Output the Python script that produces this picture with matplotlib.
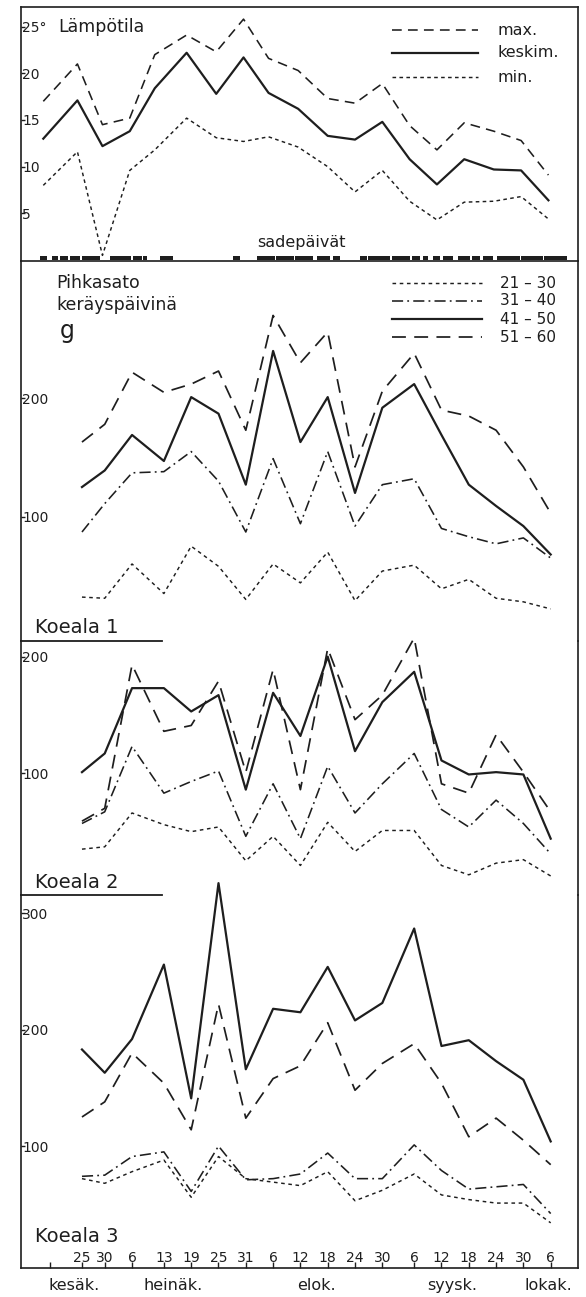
import matplotlib
matplotlib.use("Agg")
import matplotlib.pyplot as plt
from matplotlib.lines import Line2D

plt.rcParams['font.family'] = ['DejaVu Sans']
plt.rcParams['lines.scale_dashes'] = False

INK = '#1e1e1e'

# ---------------- data ----------------
date_labels = ['25', '30', '6', '13', '19', '25', '31', '6', '12', '18',
               '24', '30', '6', '12', '18', '24', '30', '6']
coll_day = [0, 5, 11, 18, 24, 30, 36, 42, 48, 54, 60, 66, 73, 79, 85, 91, 97, 103]
tick_day = [-7] + coll_day
# temperature period points (days from 25 June)
temp_day = [-8.5, -1, 4.5, 10.5, 16, 23, 29.5, 35.5, 41, 47.5,
            54, 60, 66, 72, 78, 84, 90.5, 96.5, 102.5]

month_names = ['kesäk.', 'heinäk.', 'elok.', 'syysk.', 'lokak.']
month_pos = [-1.8, 20, 51.6, 81.3, 102.4]

t_max = [17.0, 21.0, 14.5, 15.2, 22.0, 24.1, 22.3, 25.8, 21.6, 20.3,
         17.3, 16.8, 18.9, 14.4, 11.8, 14.7, 13.8, 12.8, 9.1]
t_mean = [13.0, 17.1, 12.2, 13.8, 18.4, 22.2, 17.8, 21.7, 17.9, 16.2,
          13.3, 12.9, 14.8, 10.8, 8.1, 10.8, 9.7, 9.6, 6.4]
t_min = [8.0, 11.6, 0.5, 9.6, 11.8, 15.2, 13.1, 12.7, 13.2, 12.1,
         10.0, 7.3, 9.6, 6.3, 4.3, 6.2, 6.3, 6.8, 4.4]

# rain days (start day, length in days)
rain_start = [-9.2, -6.6, -4.8, -2.6, 0.0, 6.2, 11.2, 13.4, 17.1, 33.2,
              38.5, 42.7, 46.9, 51.6, 55.2, 61.1, 62.9, 68.1, 72.5, 74.9,
              77.1, 79.3, 82.6, 85.7, 88.1, 91.2, 96.4, 101.6]
rain_len = [1.5, 1.3, 1.7, 2.2, 4.0, 4.6, 2.0, 0.9, 2.9, 1.5,
            4.0, 4.0, 3.9, 2.9, 1.5, 1.5, 4.8, 4.0, 1.8, 1.1,
            1.6, 2.2, 2.7, 1.8, 2.2, 5.0, 5.0, 5.0]

k1_21_30 = [32, 31, 60, 35, 75, 58, 30, 60, 44, 70, 29, 54, 59, 39, 47, 31, 28, 22]
k1_31_40 = [87, 111, 137, 138, 155, 130, 87, 149, 94, 155, 92, 127, 132, 90, 83, 77, 82, 65]
k1_41_50 = [125, 139, 169, 147, 201, 187, 127, 240, 163, 201, 120, 192, 212, 169, 127, 109, 92, 68]
k1_51_60 = [163, 178, 222, 205, 212, 223, 173, 270, 230, 256, 142, 206, 238, 190, 185, 173, 142, 103]

k2_21_30 = [35, 37, 66, 56, 50, 54, 25, 46, 21, 58, 33, 51, 51, 21, 13, 23, 26, 12]
k2_31_40 = [57, 67, 123, 83, 93, 102, 46, 91, 44, 106, 66, 91, 117, 69, 54, 77, 57, 31]
k2_41_50 = [101, 117, 173, 173, 153, 167, 86, 169, 132, 200, 119, 161, 187, 111, 99, 101, 99, 44]
k2_51_60 = [59, 70, 193, 136, 141, 179, 101, 189, 86, 207, 146, 167, 216, 91, 83, 133, 101, 67]

k3_21_30 = [72, 68, 78, 88, 56, 91, 72, 69, 66, 78, 53, 62, 76, 58, 54, 51, 51, 34]
k3_31_40 = [74, 75, 91, 95, 61, 100, 71, 72, 76, 94, 72, 72, 101, 79, 63, 65, 67, 42]
k3_41_50 = [183, 163, 192, 256, 141, 326, 166, 218, 215, 254, 208, 223, 287, 186, 191, 173, 157, 104]
k3_51_60 = [125, 138, 180, 154, 114, 222, 124, 158, 169, 206, 148, 171, 188, 154, 108, 124, 105, 84]

temp_labels = ['max.', 'keskim.', 'min.']
age_labels = ['21 – 30', '31 – 40', '41 – 50', '51 – 60']

# ---------------- styles ----------------
sty_max = dict(color=INK, lw=1.15, dashes=(7, 4.5))
sty_mean = dict(color=INK, lw=1.6, linestyle='-')
sty_min = dict(color=INK, lw=1.05, dashes=(2.6, 2.4))
sty_a = dict(color=INK, lw=1.05, dashes=(2.6, 2.6))          # 21-30
sty_b = dict(color=INK, lw=1.15, dashes=(8, 3, 1.3, 3))       # 31-40
sty_c = dict(color=INK, lw=1.6, linestyle='-')               # 41-50
sty_d = dict(color=INK, lw=1.25, dashes=(10, 6))              # 51-60
age_styles = [sty_a, sty_b, sty_c, sty_d]

# ---------------- layout ----------------
W, H = 586, 1297
L, R = 21, 578
XLIM = (-13.4, 109.0)

fig = plt.figure(figsize=(W / 100, H / 100), dpi=100)
fig.patch.set_facecolor('white')


def add_ax(top, bot):
    return fig.add_axes([L / W, 1 - bot / H, (R - L) / W, (bot - top) / H])


def style_ax(ax, show_top, show_bottom, yticks, ylabels):
    ax.set_xlim(*XLIM)
    for side in ['left', 'right', 'top', 'bottom']:
        ax.spines[side].set_color(INK)
        ax.spines[side].set_linewidth(1.2)
    ax.spines['top'].set_visible(show_top)
    ax.spines['bottom'].set_visible(show_bottom)
    ax.set_yticks(yticks)
    ax.set_yticklabels(ylabels)
    ax.tick_params(axis='y', direction='in', length=3, width=1.0, color=INK,
                   pad=-1.0, labelsize=10, labelcolor=INK)
    for t in ax.get_yticklabels():
        t.set_horizontalalignment('left')
    ax.set_facecolor('none')


# Temperature panel
ax0 = add_ax(7, 261)
ax0.set_ylim(-0.1, 27.1)
style_ax(ax0, True, True, [5, 10, 15, 20, 25], ['5', '10', '15', '20', '25°'])
ax0.set_xticks([])
ax0.plot(temp_day, t_max, **sty_max)
ax0.plot(temp_day, t_mean, **sty_mean)
ax0.plot(temp_day, t_min, **sty_min)
ax0.broken_barh(list(zip(rain_start, rain_len)), (0.0, 0.45), facecolor=INK,
                edgecolor='none')
ax0.text(0.066, 0.921, 'Lämpötila', transform=ax0.transAxes, fontsize=12.5,
         va='center', ha='left', color=INK)
ax0.text(0.504, 0.071, 'sadepäivät', transform=ax0.transAxes, fontsize=11.5,
         va='center', ha='center', color=INK)
leg_y0 = [0.909, 0.819, 0.724]
for lab, sty, yy in zip(temp_labels, [sty_max, sty_mean, sty_min], leg_y0):
    ax0.add_line(Line2D([0.666, 0.8205], [yy, yy], transform=ax0.transAxes, **sty))
    ax0.text(0.855, yy, lab, transform=ax0.transAxes, fontsize=11.5,
             va='center', ha='left', color=INK)

# Koeala 1
ax1 = add_ax(261, 641)
ax1.set_ylim(-5.1, 316)
style_ax(ax1, False, False, [100, 200], ['100', '200'])
ax1.set_xticks([])
for ys, sty in zip([k1_21_30, k1_31_40, k1_41_50, k1_51_60], age_styles):
    ax1.plot(coll_day, ys, clip_on=False, **sty)
ax1.text(0.063, 0.942, 'Pihkasato', transform=ax1.transAxes, fontsize=12.5,
         va='center', ha='left', color=INK)
ax1.text(0.063, 0.884, 'keräyspäivinä', transform=ax1.transAxes, fontsize=12.5,
         va='center', ha='left', color=INK)
ax1.text(0.07, 0.815, 'g', transform=ax1.transAxes, fontsize=17,
         va='center', ha='left', color=INK)
leg_y1 = [0.942, 0.895, 0.847, 0.800]
for lab, sty, yy in zip(age_labels, age_styles, leg_y1):
    ax1.add_line(Line2D([0.666, 0.828], [yy, yy], transform=ax1.transAxes, **sty))
    ax1.text(0.86, yy, lab, transform=ax1.transAxes, fontsize=11,
             va='center', ha='left', color=INK)

# Koeala 2
ax2 = add_ax(641, 895)
ax2.set_ylim(-4.3, 213.4)
style_ax(ax2, False, False, [100, 200], ['100', '200'])
ax2.set_xticks([])
for ys, sty in zip([k2_21_30, k2_31_40, k2_41_50, k2_51_60], age_styles):
    ax2.plot(coll_day, ys, clip_on=False, **sty)

# Koeala 3
ax3 = add_ax(895, 1268)
ax3.set_ylim(-4.8, 315.8)
style_ax(ax3, False, True, [100, 200, 300], ['100', '200', '300'])
for ys, sty in zip([k3_21_30, k3_31_40, k3_41_50, k3_51_60], age_styles):
    ax3.plot(coll_day, ys, clip_on=False, **sty)
ax3.set_xticks(tick_day)
ax3.set_xticklabels([''] * len(tick_day))
ax3.tick_params(axis='x', direction='in', length=4, width=1.0, color=INK)
for d, lab in zip(coll_day, date_labels):
    ax3.text(d, 0.028, lab, transform=ax3.get_xaxis_transform(), fontsize=10,
             ha='center', va='center', color=INK)
for m, p in zip(month_names, month_pos):
    ax3.text(p, -0.047, m, transform=ax3.get_xaxis_transform(), fontsize=11.5,
             ha='center', va='center', color=INK, clip_on=False)

# Koeala labels with short underlines
for ax, name, ty in [(ax1, 'Koeala 1', 0.036), (ax2, 'Koeala 2', 0.05), (ax3, 'Koeala 3', 0.085)]:
    ax.text(0.025, ty, name, transform=ax.transAxes, fontsize=14,
            va='center', ha='left', color=INK)
for ax in [ax1, ax2]:
    ax.add_line(Line2D([0, 0.253], [0, 0], transform=ax.transAxes, color=INK,
                       lw=1.3, clip_on=False))

fig.savefig('out.png', dpi=100, facecolor='white')
